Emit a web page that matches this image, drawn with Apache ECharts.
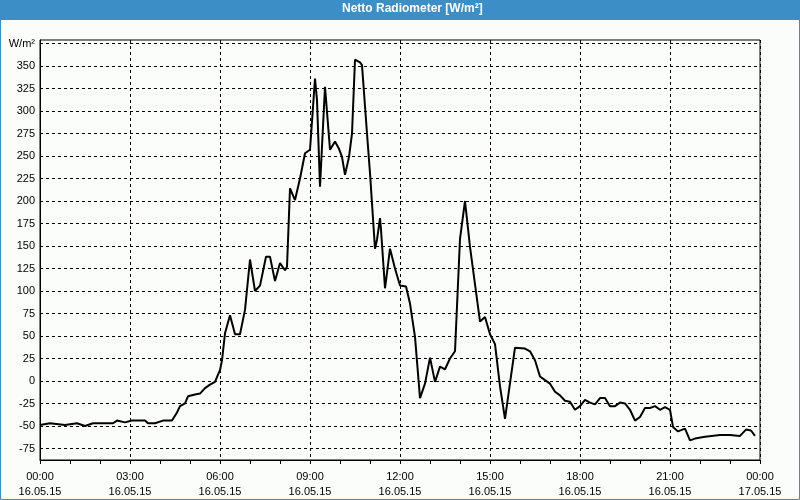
<!DOCTYPE html>
<html><head><meta charset="utf-8">
<script src="https://cdn.jsdelivr.net/npm/echarts@6/dist/echarts.min.js"></script>
<style>html,body{margin:0;padding:0;background:#fbfdfb}#c{width:800px;height:500px}</style>
</head><body><div id="c"></div>
<script>
const titleText = 'Netto Radiometer [W/m²]';
const yUnitLabel = 'W/m²';
const dateLabels = ['16.05.15', '17.05.15'];
const xTickHours = [0, 3, 6, 9, 12, 15, 18, 21, 24];
const yTicks = [-75, -50, -25, 0, 25, 50, 75, 100, 125, 150, 175, 200, 225, 250, 275, 300, 325, 350, 375];

const times = [
 '00:00','00:20','00:50','01:14','01:30','01:46','02:26','02:34','02:50','03:04',
 '03:30','03:36','03:50','04:06','04:24','04:34','04:40','04:50','04:56','05:10',
 '05:20','05:30','05:40','05:50','05:56','06:00','06:04','06:10','06:20','06:30',
 '06:40','06:50','07:00','07:10','07:20','07:32','07:40','07:50','08:00','08:10',
 '08:14','08:20','08:30','08:40','08:50','09:00','09:10','09:14','09:20','09:30',
 '09:40','09:50','09:58','10:04','10:10','10:18','10:24','10:30','10:40','10:44',
 '10:54','11:00','11:10','11:14','11:20','11:22','11:30','11:34','11:40','11:50',
 '12:00','12:12','12:20','12:30','12:40','12:50','13:00','13:10','13:20','13:30',
 '13:40','13:50','14:00','14:10','14:12','14:20','14:40','14:50','15:00','15:10',
 '15:20','15:30','15:50','16:10','16:20','16:30','16:40','16:50','17:00','17:10',
 '17:20','17:30','17:40','17:50','18:00','18:10','18:20','18:30','18:40','18:50',
 '19:00','19:10','19:20','19:30','19:40','19:50','20:00','20:10','20:20','20:30',
 '20:40','20:50','21:00','21:06','21:16','21:30','21:40','21:50','22:10','22:40',
 '23:00','23:20','23:32','23:42','23:50'
];
const values = [
 -49,-47,-49,-47,-50,-47,-47,-44,-46,-44,
 -44,-47,-47,-44,-44,-35,-28,-25,-17,-15,
 -14,-8,-4,-1,7,12,23,53,73,52,
 52,79,135,100,106,138,138,111,131,123,
 127,214,201,225,253,257,336,312,216,327,
 257,266,258,249,229,249,275,357,354,351,
 275,231,147,157,181,168,103,120,147,125,
 106,105,86,49,-19,-3,26,-1,16,13,
 25,33,158,200,200,149,66,71,52,41,
 -6,-42,37,36,33,23,5,1,-3,-12,
 -16,-22,-23,-32,-28,-21,-24,-26,-19,-19,
 -28,-28,-24,-25,-32,-44,-40,-30,-30,-28,
 -32,-29,-32,-51,-56,-53,-66,-64,-62,-60,
 -60,-61,-54,-55,-61
];

function toHours(t) { const p = t.split(':'); return +p[0] + (+p[1]) / 60; }
const seriesData = times.map((t, i) => [toHours(t), values[i]]);

const blue = '#3c8fc6';
const font = 'Liberation Sans';
const chart = echarts.init(document.getElementById('c'), null, {renderer: 'canvas'});
chart.setOption({
  animation: false,
  backgroundColor: '#fbfdfb',
  textStyle: {fontFamily: font},
  graphic: [
    {type: 'rect', z: -5, shape: {x: 0.5, y: 0.5, width: 799, height: 499}, style: {fill: '#fbfdfb', stroke: blue, lineWidth: 1}},
    {type: 'rect', z: -4, shape: {x: 0, y: 0, width: 800, height: 20}, style: {fill: blue}}
  ],
  title: {
    text: titleText, left: 342, top: 3, padding: 0,
    textStyle: {color: '#ffffff', fontSize: 12, fontWeight: 'bold', fontFamily: font}
  },
  grid: {left: 40, right: 40, top: 40, bottom: 40, show: true, borderColor: '#000', borderWidth: 1, backgroundColor: 'transparent'},
  xAxis: {
    type: 'value', min: 0, max: 24, interval: 3,
    axisLine: {show: true, onZero: false, lineStyle: {color: '#000', width: 1}},
    axisTick: {show: true, length: 4, lineStyle: {color: '#000'}},
    minorTick: {show: true, splitNumber: 3, length: 4, lineStyle: {color: '#000'}},
    splitLine: {show: true, lineStyle: {color: '#000', type: [3, 3], width: 1}},
    axisLabel: {
      margin: 9, color: '#000', fontSize: 11, fontFamily: font, lineHeight: 15,
      formatter: function (v) {
        const h = v % 24;
        const hh = (h < 10 ? '0' : '') + h + ':00';
        return hh + '\n' + (v >= 24 ? dateLabels[1] : dateLabels[0]);
      }
    }
  },
  yAxis: {
    type: 'value', min: -87.8, max: 378.9,
    axisLine: {show: true, onZero: false, lineStyle: {color: '#000', width: 1}},
    axisTick: {show: false, customValues: yTicks},
    splitLine: {show: true, lineStyle: {color: '#000', type: [3, 3], width: 1}},
    axisLabel: {
      customValues: yTicks, margin: 5, color: '#000', fontSize: 11, fontFamily: font,
      formatter: function (v) { return v === 375 ? yUnitLabel : String(v); }
    }
  },
  series: [{
    type: 'line', data: seriesData, showSymbol: false, smooth: false,
    lineStyle: {color: '#000', width: 2}, z: 5
  }]
});
</script></body></html>
